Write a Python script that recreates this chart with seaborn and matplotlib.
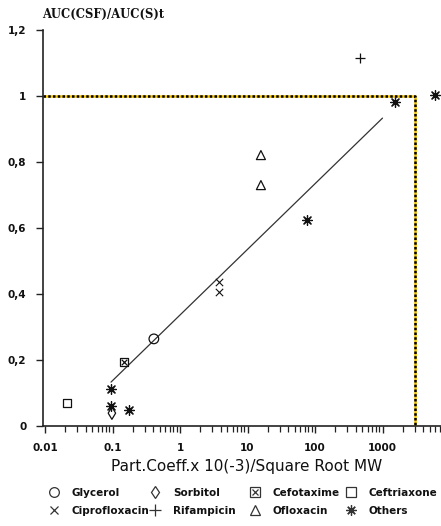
import matplotlib
matplotlib.use("Agg")
import matplotlib.pyplot as plt
import seaborn as sns
import numpy as np
from matplotlib.lines import Line2D
from matplotlib.legend_handler import HandlerTuple
from matplotlib.ticker import LogLocator, FixedLocator, FixedFormatter, NullFormatter

# ---- data ----
glycerol_x = [0.41];  glycerol_y = [0.264]
sorbitol_x = [0.098]; sorbitol_y = [0.039]
cefotaxime_x = [0.148]; cefotaxime_y = [0.194]
ceftriaxone_x = [0.021]; ceftriaxone_y = [0.07]
cipro_x = [3.8, 3.8]; cipro_y = [0.437, 0.405]
rifampicin_x = [465]; rifampicin_y = [1.115]
ofloxacin_x = [15.8, 15.8]; ofloxacin_y = [0.821, 0.730]
others_x = [0.095, 0.095, 0.175, 76, 1550, 6000]
others_y = [0.112, 0.061, 0.048, 0.624, 0.982, 1.003]
fit_x = [0.095, 1000]; fit_y = [0.133, 0.933]
limit_x = [0.0093, 3000, 3000]; limit_y = [1.0, 1.0, 0.0]

xtick_vals = [0.01, 0.1, 1, 10, 100, 1000]
xtick_labels = ["0.01", "0.1", "1", "10", "100", "1000"]
ytick_vals = [0, 0.2, 0.4, 0.6, 0.8, 1.0, 1.2]
ytick_labels = ["0", "0,2", "0,4", "0,6", "0,8", "1", "1,2"]

sns.set_theme(style="white")
plt.rcParams['font.family'] = ['DejaVu Sans']
plt.rcParams['text.color'] = '#111111'
plt.rcParams['xtick.color'] = '#111111'
plt.rcParams['ytick.color'] = '#111111'

W, H = 441, 526
fig = plt.figure(figsize=(W / 100, H / 100), dpi=100)
ax = fig.add_axes([43 / W, (526 - 426) / H, (W - 43) / W, (426 - 30) / H])
ax.set_xscale("log")
ax.set_xlim(10 ** (-2 - 2 / 67.5), 10 ** (-2 + (W - 45) / 67.5))
ax.set_ylim(0, 1.2)

k = "#111111"
# threshold (yellow/black dotted)
sns.lineplot(x=limit_x, y=limit_y, ax=ax, color="#f2c200", lw=1.8, sort=False, estimator=None)
sns.lineplot(x=limit_x, y=limit_y, ax=ax, color="black", lw=1.8, sort=False, estimator=None,
             linestyle=(0, (1, 0.9)))
# regression line
sns.lineplot(x=fit_x, y=fit_y, ax=ax, color="#333333", lw=0.9, estimator=None)

sns.scatterplot(x=glycerol_x, y=glycerol_y, ax=ax, marker="o", s=48, fc="none", ec=k, linewidth=0.9, zorder=5)
sns.scatterplot(x=sorbitol_x, y=sorbitol_y, ax=ax, marker="d", s=40, fc="none", ec=k, linewidth=0.9, zorder=5)
sns.scatterplot(x=cefotaxime_x, y=cefotaxime_y, ax=ax, marker="s", s=36, fc="none", ec=k, linewidth=0.9, zorder=5)
sns.scatterplot(x=cefotaxime_x, y=cefotaxime_y, ax=ax, marker="x", s=16, color=k, linewidth=0.9, zorder=5)
sns.scatterplot(x=ceftriaxone_x, y=ceftriaxone_y, ax=ax, marker="s", s=36, fc="none", ec=k, linewidth=0.9, zorder=5)
sns.scatterplot(x=cipro_x, y=cipro_y, ax=ax, marker="x", s=28, color=k, linewidth=0.8, zorder=5)
sns.scatterplot(x=rifampicin_x, y=rifampicin_y, ax=ax, marker="+", s=55, color=k, linewidth=0.9, zorder=5)
sns.scatterplot(x=ofloxacin_x, y=ofloxacin_y, ax=ax, marker="^", s=42, fc="none", ec=k, linewidth=0.9, zorder=5)
sns.scatterplot(x=others_x, y=others_y, ax=ax, marker=(8, 2, 0), s=50, color=k, linewidth=0.9, zorder=5)
sns.scatterplot(x=others_x, y=others_y, ax=ax, marker="o", s=8, color=k, linewidth=0, zorder=6)

# spines & ticks
for s in ["top", "right"]:
    ax.spines[s].set_visible(False)
for s in ["left", "bottom"]:
    ax.spines[s].set_color("#222222")
    ax.spines[s].set_linewidth(1.2)
ax.xaxis.set_major_locator(FixedLocator(xtick_vals))
ax.xaxis.set_major_formatter(FixedFormatter(xtick_labels))
ax.xaxis.set_minor_locator(LogLocator(base=10, subs=np.arange(2, 10), numticks=20))
ax.xaxis.set_minor_formatter(NullFormatter())
ax.yaxis.set_major_locator(FixedLocator(ytick_vals))
ax.yaxis.set_major_formatter(FixedFormatter(ytick_labels))
ax.tick_params(axis="both", which="major", direction="out", length=5, width=1, color="#222222",
               bottom=True, left=True, labelsize=7.5, pad=7)
ax.tick_params(axis="x", which="minor", direction="out", length=4, width=0.9, color="#222222", bottom=True)
for lab in ax.get_xticklabels() + ax.get_yticklabels():
    lab.set_fontweight("bold")
ax.grid(False)

fig.text(42 / W, 1 - 14 / H, "AUC(CSF)/AUC(S)t", fontsize=8.3, fontweight="bold",
         family="DejaVu Serif", ha="left", va="center")
fig.text(247 / W, 1 - 466 / H, "Part.Coeff.x 10(-3)/Square Root MW", fontsize=11,
         ha="center", va="center")

# legend (4 columns x 2 rows)
def mk(marker, ms=6, fill="none", mew=0.9):
    return Line2D([], [], ls="none", marker=marker, ms=ms, mfc=fill, mec="#333333", color="#333333", mew=mew)

cols = [
    [(mk("o", 7), "Glycerol"), (mk("x", 6), "Ciprofloxacin")],
    [(mk("d", 6), "Sorbitol"), (mk("+", 8), "Rifampicin")],
    [((mk("s", 6.5), mk("x", 4.0)), "Cefotaxime"), (mk("^", 7), "Ofloxacin")],
    [(mk("s", 6.5), "Ceftriaxone"), ((mk((8, 2, 0), 7.5), mk("o", 2.2, fill="#333333")), "Others")],
]
col_x = [49, 150, 250, 346]
for cx, entries in zip(col_x, cols):
    hs = [e[0] for e in entries]
    ls = [e[1] for e in entries]
    fig.legend(hs, ls, loc="upper left", bbox_to_anchor=(cx / W, 1 - 488 / H),
               frameon=False, borderpad=0, borderaxespad=0, handlelength=0.9,
               handletextpad=1.3, labelspacing=0.75,
               prop={"size": 7.5, "weight": "bold"},
               handler_map={tuple: HandlerTuple(ndivide=1)})

fig.savefig("out.png", dpi=100)
